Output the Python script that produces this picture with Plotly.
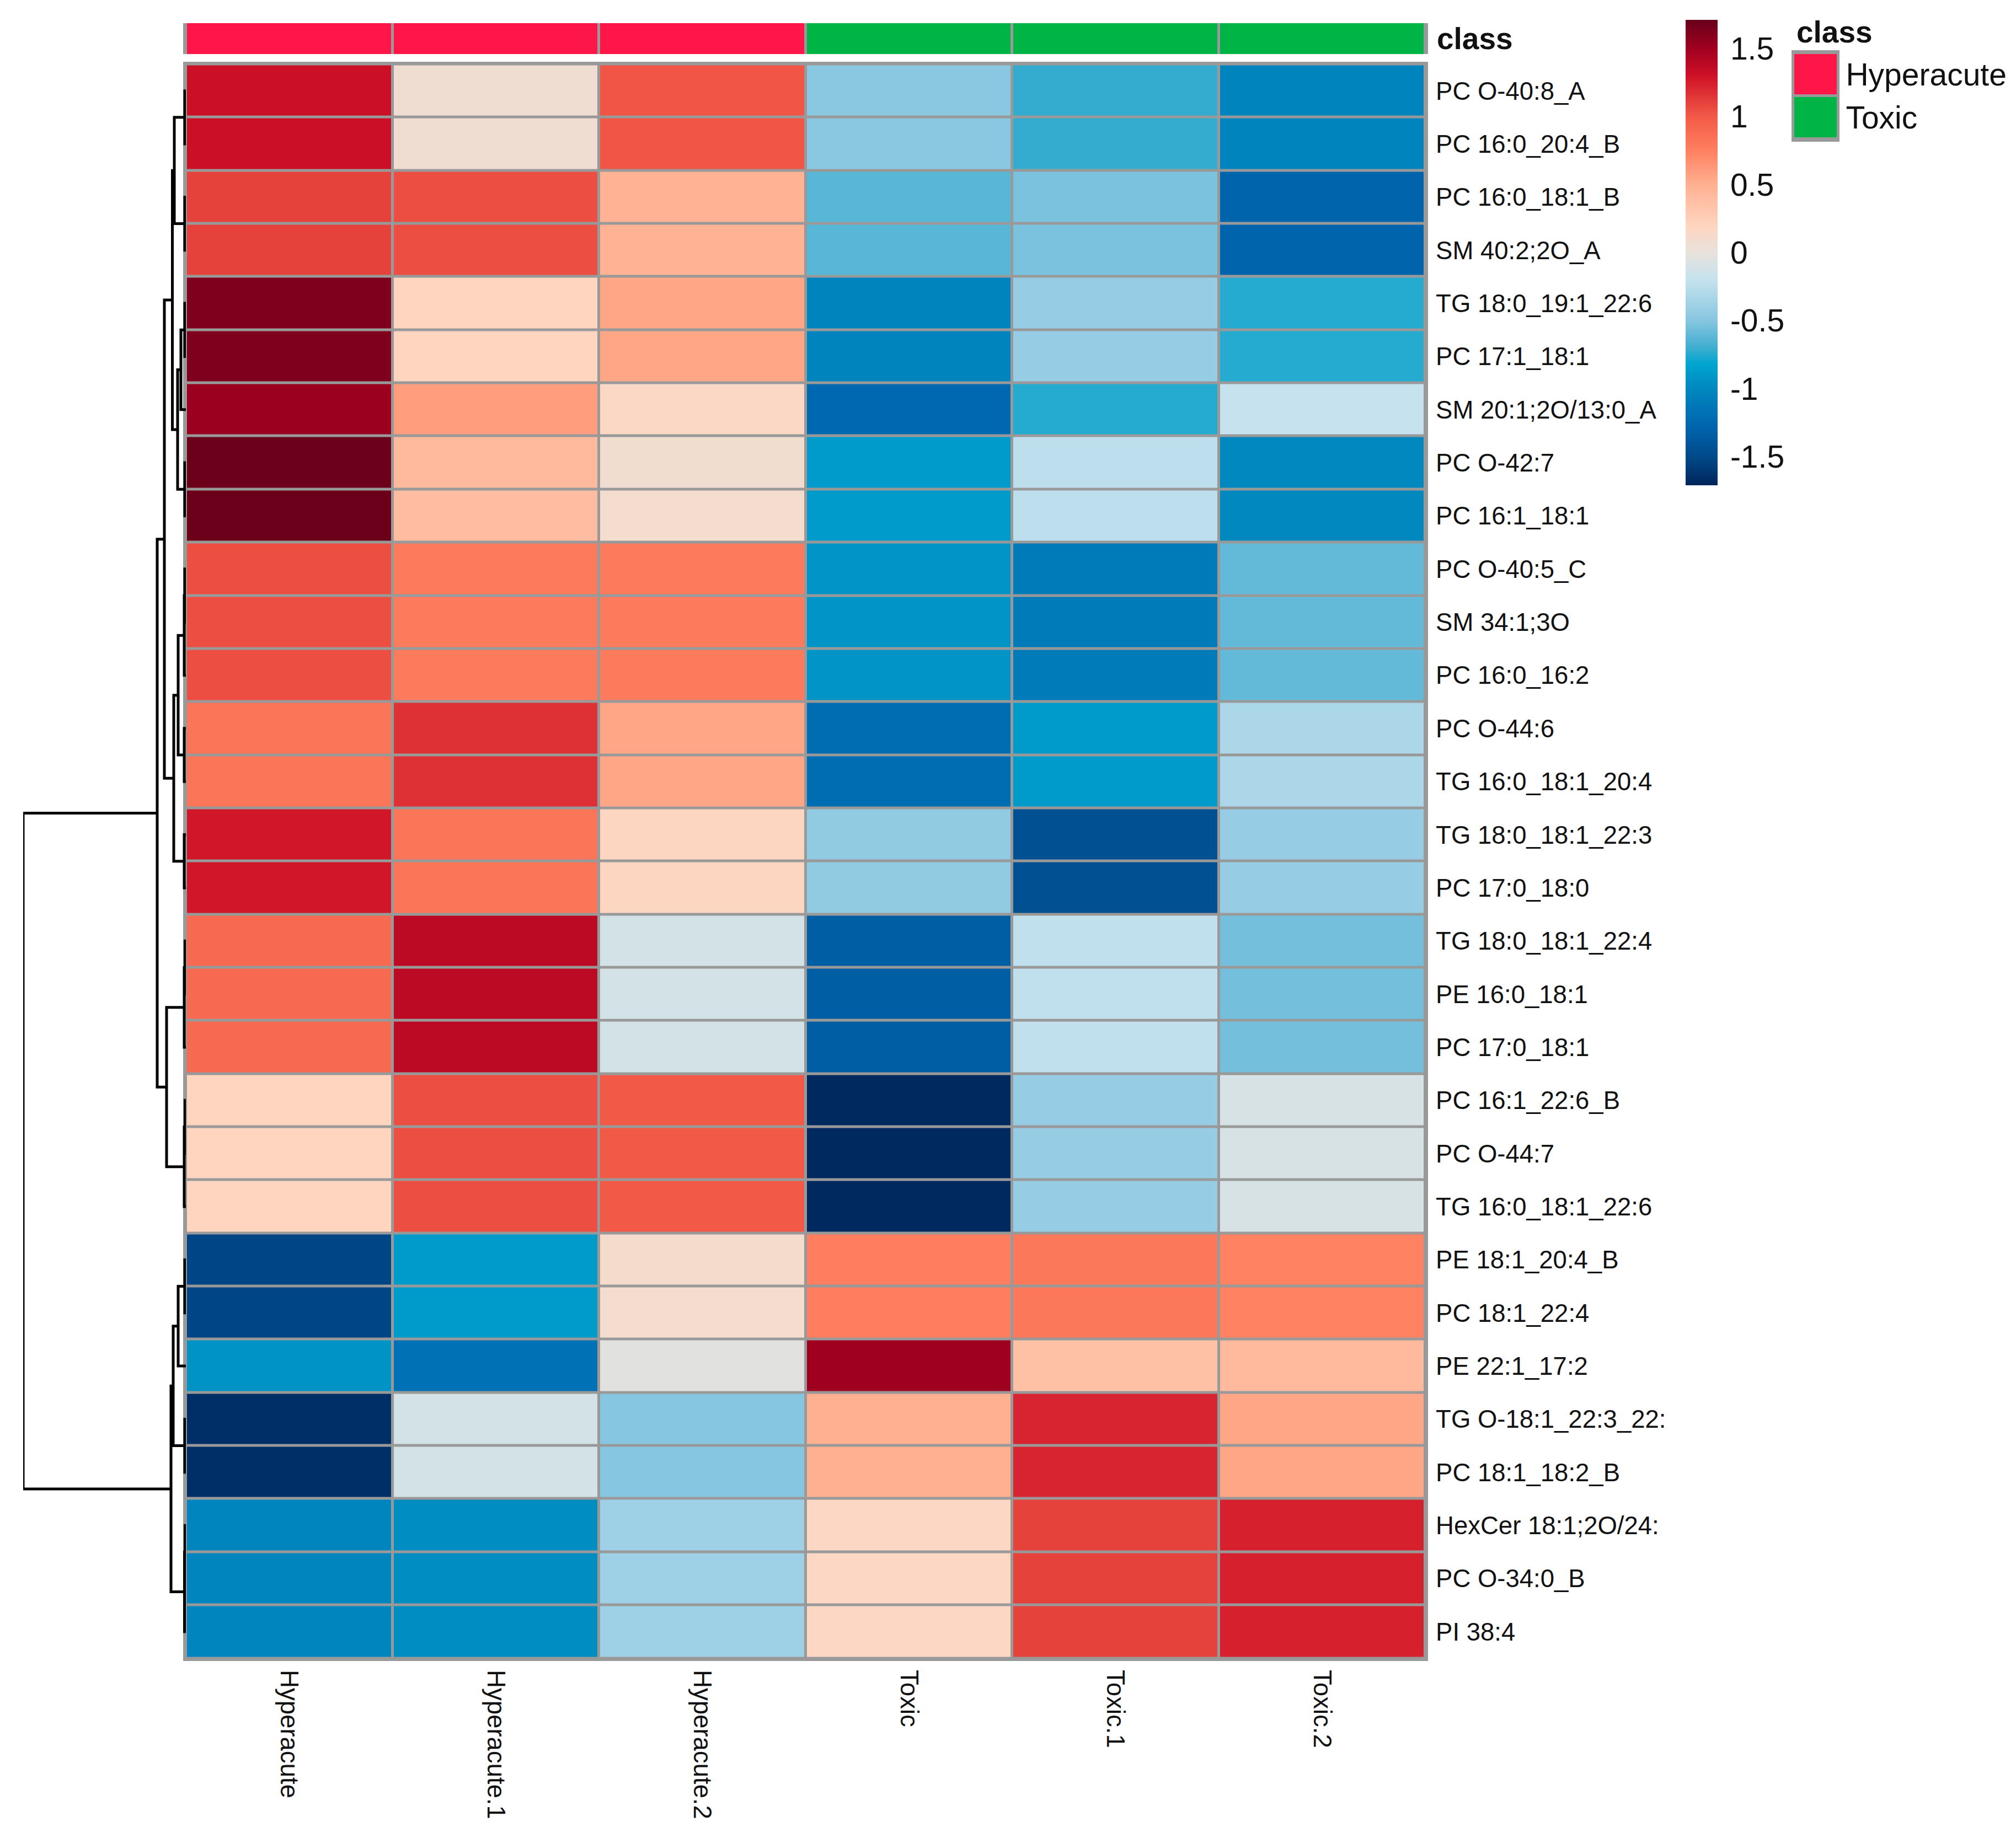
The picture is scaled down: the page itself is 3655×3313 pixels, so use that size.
# -*- coding: utf-8 -*-
import plotly.graph_objects as go

samples = ["Hyperacute", "Hyperacute.1", "Hyperacute.2", "Toxic", "Toxic.1", "Toxic.2"]
lipids = ["PC O-40:8_A", "PC 16:0_20:4_B", "PC 16:0_18:1_B", "SM 40:2;2O_A", "TG 18:0_19:1_22:6",
          "PC 17:1_18:1", "SM 20:1;2O/13:0_A", "PC O-42:7", "PC 16:1_18:1", "PC O-40:5_C",
          "SM 34:1;3O", "PC 16:0_16:2", "PC O-44:6", "TG 16:0_18:1_20:4", "TG 18:0_18:1_22:3",
          "PC 17:0_18:0", "TG 18:0_18:1_22:4", "PE 16:0_18:1", "PC 17:0_18:1", "PC 16:1_22:6_B",
          "PC O-44:7", "TG 16:0_18:1_22:6", "PE 18:1_20:4_B", "PC 18:1_22:4", "PE 22:1_17:2",
          "TG O-18:1_22:3_22:", "PC 18:1_18:2_B", "HexCer 18:1;2O/24:", "PC O-34:0_B", "PI 38:4"]

hyperacute = [1.32, 1.32, 1.1, 1.1, 1.62, 1.62, 1.52, 1.69, 1.69, 1.05, 1.05, 1.05, 0.82, 0.82, 1.28, 1.28, 0.9, 0.9, 0.9, 0.2, 0.2, 0.2, -1.52, -1.52, -0.93, -1.65, -1.65, -1.02, -1.02, -1.02]
hyperacute_1 = [0.07, 0.07, 1.05, 1.05, 0.2, 0.2, 0.6, 0.42, 0.4, 0.78, 0.78, 0.78, 1.17, 1.17, 0.82, 0.82, 1.38, 1.38, 1.38, 1.05, 1.05, 1.05, -0.88, -0.88, -1.18, -0.12, -0.12, -0.97, -0.97, -0.97]
hyperacute_2 = [1.02, 1.02, 0.48, 0.48, 0.55, 0.55, 0.16, 0.08, 0.1, 0.78, 0.78, 0.78, 0.55, 0.55, 0.18, 0.18, -0.12, -0.12, -0.12, 1.0, 1.0, 1.0, 0.11, 0.1, -0.04, -0.5, -0.5, -0.38, -0.38, -0.38]
toxic = [-0.48, -0.48, -0.63, -0.63, -1.03, -1.03, -1.25, -0.88, -0.88, -0.92, -0.92, -0.92, -1.22, -1.22, -0.45, -0.45, -1.33, -1.33, -1.33, -1.68, -1.68, -1.68, 0.76, 0.76, 1.5, 0.5, 0.5, 0.17, 0.17, 0.17]
toxic_1 = [-0.72, -0.72, -0.53, -0.53, -0.42, -0.42, -0.75, -0.24, -0.24, -1.1, -1.1, -1.1, -0.88, -0.88, -1.45, -1.45, -0.22, -0.22, -0.22, -0.42, -0.42, -0.42, 0.8, 0.8, 0.36, 1.22, 1.22, 1.1, 1.1, 1.1]
toxic_2 = [-1.03, -1.03, -1.28, -1.28, -0.75, -0.75, -0.2, -1.0, -1.0, -0.6, -0.6, -0.6, -0.32, -0.32, -0.42, -0.42, -0.55, -0.55, -0.55, -0.1, -0.1, -0.1, 0.74, 0.74, 0.42, 0.55, 0.55, 1.24, 1.24, 1.24]

classes = ["Hyperacute", "Hyperacute", "Hyperacute", "Toxic", "Toxic", "Toxic"]
class_names = ["Hyperacute", "Toxic"]
class_colors = ["#FF1649", "#00B546"]

# hclust style merge table: negative = leaf row (1 based), positive = earlier merge
merge_a = [-1, -3, 1, -5, 4, -8, 5, 3, -10, 9, -13, 10, -15, 12, 8, -17, 16, -20, 18, 17, 15, -23, 22, -26, 23, -28, 26, 25, 21]
merge_b = [-2, -4, 2, -6, -7, -9, 6, 7, -11, -12, -14, 11, -16, 13, 14, -18, -19, -21, -22, 19, 20, -24, -25, -27, 24, -29, -30, 27, 28]
merge_h = [0.2, 0.2, 2.1, 0.2, 0.9, 0.2, 1.5, 2.45, 0.2, 0.3, 0.3, 1.4, 0.3, 2.2, 3.9, 0.15, 0.3, 0.15, 0.3, 3.5, 5.2, 0.2, 1.4, 0.2, 2.3, 0.15, 0.25, 2.7, 29.5]

colorbar_values = [-1.71, -1.5, -1.25, -1.0, -0.82, -0.7, -0.5, -0.2, 0, 0.2, 0.5, 0.75, 1.0, 1.3, 1.5, 1.71]
colorbar_colors = ["#002459", "#004A8B", "#0068B0", "#0088BF", "#00A5CF", "#3FADD0", "#86C6E0", "#C5E2EE",
                   "#E8E2DC", "#FFD5BF", "#FFB091", "#FF8060", "#F25A47", "#CF1127", "#A00020", "#67001A"]

W, H = 3655, 3313
GREY = "#999999"
FONT = "Liberation Sans"

fig = go.Figure()

z = [list(row) for row in zip(hyperacute, hyperacute_1, hyperacute_2, toxic, toxic_1, toxic_2)]
vmin, vmax = colorbar_values[0], colorbar_values[-1]
scale = [[(v - vmin) / (vmax - vmin), c] for v, c in zip(colorbar_values, colorbar_colors)]

fig.add_trace(go.Heatmap(
    z=z, x=samples, y=lipids, zmin=vmin, zmax=vmax, colorscale=scale, xgap=5, ygap=5,
    colorbar=dict(x=3056 / W, xanchor="left", xpad=0, y=1 - 880 / H, yanchor="bottom", ypad=0,
                  lenmode="pixels", len=844, thicknessmode="pixels", thickness=58,
                  outlinewidth=0, ticks="outside", ticklen=12, tickcolor="rgba(0,0,0,0)",
                  tickvals=[-1.5, -1, -0.5, 0, 0.5, 1, 1.5],
                  ticktext=["-1.5", "-1", "-0.5", "0", "0.5", "1", "1.5"],
                  tickfont=dict(family=FONT, size=57, color="#111111")),
))

# annotation bar over the heatmap
codes = [class_names.index(c) for c in classes]
two_colors = [[0, class_colors[0]], [0.5, class_colors[0]], [0.5, class_colors[1]], [1, class_colors[1]]]
fig.add_trace(go.Heatmap(z=[codes], x=samples, y=["<b>class</b>"], zmin=0, zmax=1, colorscale=two_colors,
                         showscale=False, xgap=5, ygap=0, xaxis="x", yaxis="y3"))

# legend swatches
fig.add_trace(go.Heatmap(z=[[0], [1]], x=[""], y=class_names, zmin=0, zmax=1, colorscale=two_colors,
                         showscale=False, xgap=0, ygap=5, xaxis="x4", yaxis="y4"))

# dendrogram from the merge table
pos = {}
for i, (a, b, h) in enumerate(zip(merge_a, merge_b, merge_h)):
    ya = -a - 1 if a < 0 else pos[a][1]
    yb = -b - 1 if b < 0 else pos[b][1]
    ha = 0 if a < 0 else pos[a][0]
    hb = 0 if b < 0 else pos[b][0]
    fig.add_trace(go.Scatter(x=[ha, h, h, hb], y=[ya, ya, yb, yb], mode="lines",
                             line=dict(color="black", width=5), xaxis="x2", yaxis="y2",
                             hoverinfo="skip", showlegend=False))
    pos[i + 1] = (h, (ya + yb) / 2)

axis_line = dict(showline=True, linecolor=GREY, linewidth=5, mirror=True, showgrid=False, zeroline=False)
label_font = dict(family=FONT, size=45.5, color="#111111")

# grey sheet under each heatmap so the cell gaps read as grid lines
grid_sheets = [dict(type="rect", xref=xa + " domain", yref=ya + " domain", x0=0, x1=1, y0=0, y1=1,
                    fillcolor=GREY, line_width=0, layer="below")
               for xa, ya in [("x", "y"), ("x", "y3"), ("x4", "y4")]]

fig.update_layout(
    width=W, height=H, margin=dict(l=0, r=0, t=0, b=0, autoexpand=False), autosize=False,
    paper_bgcolor="white", plot_bgcolor="white", showlegend=False,
    font=dict(family=FONT), shapes=grid_sheets,
    xaxis=dict(domain=[337 / W, 2584 / W], anchor="y", side="bottom", tickangle=90, ticks="",
               ticklabelstandoff=7, tickfont=label_font, **axis_line),
    yaxis=dict(domain=[1 - 3007 / H, 1 - 116.5 / H], anchor="x", side="right", ticks="",
               range=[29.5, -0.5], tickmode="array", tickvals=lipids, ticktext=lipids,
               ticklabelstandoff=5, tickfont=label_font, **axis_line),
    xaxis2=dict(domain=[42 / W, 337 / W], anchor="y2", range=[29.5, 0], visible=False),
    yaxis2=dict(domain=[1 - 3007 / H, 1 - 116.5 / H], anchor="x2", range=[29.5, -0.5], visible=False),
    yaxis3=dict(domain=[1 - 98 / H, 1 - 42 / H], anchor="x", side="right", ticks="", ticklabelstandoff=5,
                tickfont=dict(family=FONT, size=55, color="#111111"), **axis_line),
    xaxis4=dict(domain=[3253 / W, 3330 / W], anchor="y4", showticklabels=False, ticks="", **axis_line),
    yaxis4=dict(domain=[1 - 252 / H, 1 - 96 / H], anchor="x4", side="right", ticks="", range=[1.5, -0.5],
                tickfont=dict(family=FONT, size=57, color="#111111"), **axis_line),
    annotations=[dict(text="<b>class</b>", xref="paper", yref="paper", x=3255 / W, y=1 - 58 / H,
                      xanchor="left", yanchor="middle", showarrow=False,
                      font=dict(family=FONT, size=55, color="#111111"))],
)

fig.write_html("out.html", config={"displayModeBar": False}, post_script="document.body.style.margin='0';")
